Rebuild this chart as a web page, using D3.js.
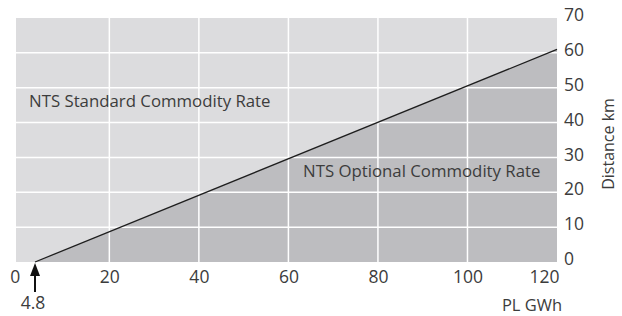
<!DOCTYPE html>
<html>
<head>
<meta charset="utf-8">
<script src="https://cdn.jsdelivr.net/npm/d3@7"></script>
<style>
  body { margin: 0; background: #fff; }
  svg text { font-family: "Open Sans", sans-serif; fill: #3c3c3c; }
</style>
</head>
<body>
<div id="chart"></div>
<script>
// x: PL GWh, y: Distance km
const xTicks = [0, 20, 40, 60, 80, 100, 120];
const yTicks = [0, 10, 20, 30, 40, 50, 60, 70];
// boundary between the two rates (start where drawn, end at right edge)
const boundaryX = [3.4, 120];
const boundaryY = [0, 61];
const startLabel = '4.8';
const regionLabels = ['NTS Standard Commodity Rate', 'NTS Optional Commodity Rate'];
const xTitle = 'PL GWh';
const yTitle = 'Distance km';

const width = 622;
const height = 316;
const margin = { top: 18, right: 65, bottom: 54, left: 16 };
const innerW = width - margin.left - margin.right;
const innerH = height - margin.top - margin.bottom;

const x = d3.scaleLinear().domain([-0.85, 120]).range([0, innerW]);
const y = d3.scaleLinear().domain([0, 70]).range([innerH, 0]);

const svg = d3.select('#chart').append('svg')
  .attr('width', width)
  .attr('height', height);

const g = svg.append('g')
  .attr('transform', `translate(${margin.left},${margin.top})`);

// light background = standard rate
g.append('rect')
  .attr('width', innerW)
  .attr('height', innerH)
  .attr('fill', '#dcdcde');

// dark area below the line = optional rate
const pts = boundaryX.map((v, i) => [v, boundaryY[i]]);
const area = d3.area().x(d => x(d[0])).y0(innerH).y1(d => y(d[1]));
g.append('path')
  .datum(pts)
  .attr('fill', '#bdbdc0')
  .attr('d', area);

// gridlines
g.append('g')
  .selectAll('line')
  .data(xTicks.filter(t => t > 0 && t < 120))
  .join('line')
  .attr('x1', d => x(d)).attr('x2', d => x(d))
  .attr('y1', 0).attr('y2', innerH)
  .attr('stroke', '#fff').attr('stroke-width', 1.5);
g.append('g')
  .selectAll('line')
  .data(yTicks.filter(t => t > 0 && t < 70))
  .join('line')
  .attr('x1', 0).attr('x2', innerW)
  .attr('y1', d => y(d)).attr('y2', d => y(d))
  .attr('stroke', '#fff').attr('stroke-width', 1.5);

// boundary line
g.append('path')
  .datum(pts)
  .attr('fill', 'none')
  .attr('stroke', '#1e1e1e')
  .attr('stroke-width', 1.3)
  .attr('d', d3.line().x(d => x(d[0])).y(d => y(d[1])));

// x axis labels (end labels nudged inwards like the original)
const xAxis = g.append('g')
  .attr('transform', `translate(0,${innerH})`)
  .call(d3.axisBottom(x).tickValues(xTicks).tickSize(0).tickPadding(0));
xAxis.select('.domain').remove();
xAxis.selectAll('text')
  .attr('font-size', 17.5)
  .attr('dy', 21)
  .attr('dx', d => d === 0 ? -5 : d === 120 ? -13 : 0)
  .attr('fill', '#3c3c3c');

// y axis labels on the right
const yAxis = g.append('g')
  .attr('transform', `translate(${innerW},0)`)
  .call(d3.axisRight(y).tickValues(yTicks).tickSize(0).tickPadding(7));
yAxis.select('.domain').remove();
yAxis.selectAll('text')
  .attr('font-size', 17.5)
  .attr('dy', '0.15em')
  .attr('fill', '#3c3c3c');

// axis titles
svg.append('text')
  .attr('x', 532)
  .attr('y', 311)
  .attr('text-anchor', 'middle')
  .attr('font-size', 16.5)
  .text(xTitle);
svg.append('text')
  .attr('transform', 'translate(614,144) rotate(-90)')
  .attr('text-anchor', 'middle')
  .attr('font-size', 16)
  .text(yTitle);

// region labels
g.append('text')
  .attr('x', 13)
  .attr('y', 89)
  .attr('font-size', 16.8)
  .text(regionLabels[0]);
g.append('text')
  .attr('x', 287)
  .attr('y', 159)
  .attr('font-size', 16.8)
  .text(regionLabels[1]);

// arrow marking the start of the line
const ax = x(boundaryX[0]);
g.append('line')
  .attr('x1', ax).attr('x2', ax)
  .attr('y1', innerH + 8).attr('y2', innerH + 30)
  .attr('stroke', '#111').attr('stroke-width', 2);
g.append('path')
  .attr('d', `M${ax},${innerH + 1} L${ax - 5},${innerH + 14} L${ax + 5},${innerH + 14} Z`)
  .attr('fill', '#111');
g.append('text')
  .attr('x', ax - 2)
  .attr('y', innerH + 47)
  .attr('text-anchor', 'middle')
  .attr('font-size', 17.5)
  .text(startLabel);
</script>
</body>
</html>
